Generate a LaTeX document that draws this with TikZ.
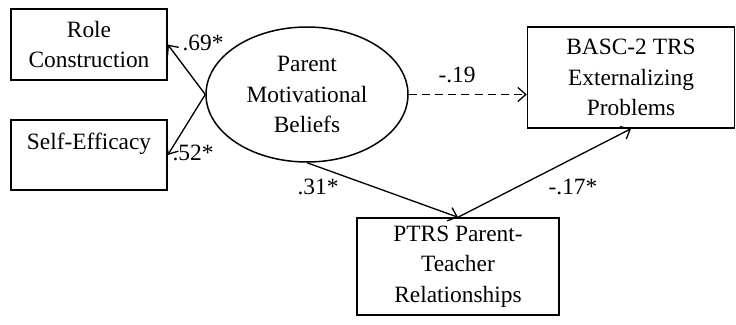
\documentclass[tikz,border=0pt]{standalone}
\usepackage{fontspec}
\setmainfont{Liberation Serif}
\usetikzlibrary{arrows.meta}
\usetikzlibrary{positioning}
\usetikzlibrary{shapes.geometric}

\begin{document}
\begin{tikzpicture}[
					sem box/.style={draw, line width=0.85pt, rectangle, align=center, font=\fontsize{13.3}{17.4}\selectfont},
					sem latent/.style={draw, line width=0.85pt, ellipse, align=center, inner sep=0pt, minimum width=4.04cm, minimum height=2.7cm, font=\fontsize{13.3}{17.4}\selectfont},
					sem path/.style={line width=0.75pt, -{Straight Barb[length=4.5pt,width=8pt]}},
					sem label/.style={font=\fontsize{13.3}{17.4}\selectfont, inner sep=0pt},
				]
					\useasboundingbox (0,0) rectangle (14.72,-6.5);
					
					\node[sem box, minimum width=3.12cm, minimum height=1.42cm] (role) at (1.78,-0.89) {Role\\Construction};
					\node[sem box, minimum width=3.12cm, minimum height=1.40cm] (eff) at (1.78,-3.10) {Self-Efficacy\\[-0.1em]~};
					\node[sem latent] (pmb) at (6.14,-1.89) {Parent\\Motivational\\Beliefs};
					\node[sem box, minimum width=4.14cm, minimum height=2.02cm] (basc) at (12.62,-1.55) {BASC-2 TRS\\Externalizing\\Problems};
					\node[sem box, minimum width=4.04cm, minimum height=1.94cm] (ptrs) at (9.16,-5.33) {PTRS Parent-\\Teacher\\Relationships};
					
					\draw[sem path] (pmb.west) -- (role.east);
					\draw[sem path] (pmb.west) -- (eff.east);
					\draw[sem path, dash pattern=on 4.5pt off 3pt] (pmb.east) -- (pmb.east -| basc.west);
					\draw[sem path] (pmb.south) -- (ptrs.north);
					\draw[sem path] (ptrs.north) -- (basc.south);
					
					\node[sem label] at (4.06,-0.86) {.69*};
					\node[sem label] at (3.86,-3.06) {.52*};
					\node[sem label] at (9.14,-1.50) {-.19};
					\node[sem label] at (6.36,-3.74) {.31*};
					\node[sem label] at (11.46,-3.74) {-.17*};
				\end{tikzpicture}
\end{document}
